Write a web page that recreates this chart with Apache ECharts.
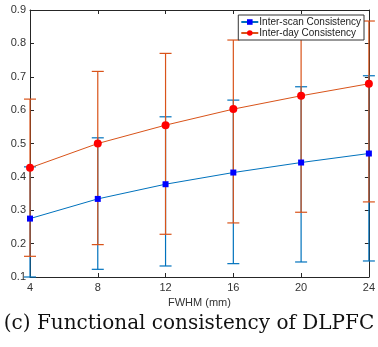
<!DOCTYPE html>
<html><head><meta charset="utf-8">
<script src="https://cdn.jsdelivr.net/npm/echarts@6/dist/echarts.min.js"></script>
<style>html,body{margin:0;padding:0;background:#fff}#c{width:378px;height:347px}</style>
</head><body><div id="c"></div>
<script>
const fwhm = [4, 8, 12, 16, 20, 24];
const scanMean = [0.275, 0.334, 0.378, 0.413, 0.443, 0.470];
const scanLow  = [0.100, 0.123, 0.133, 0.140, 0.145, 0.148];
const scanHigh = [0.430, 0.517, 0.580, 0.630, 0.670, 0.703];
const dayMean  = [0.427, 0.500, 0.555, 0.603, 0.643, 0.679];
const dayLow   = [0.162, 0.197, 0.228, 0.262, 0.294, 0.325];
const dayHigh  = [0.633, 0.716, 0.770, 0.810, 0.845, 0.867];
const yTicks = [0.1,0.2,0.3,0.4,0.5,0.6,0.7,0.8,0.9];

const blueLine = '#0072BD', redLine = '#D95319';
const chart = echarts.init(document.getElementById('c'));

function errSeries(name, lo, hi, color) {
  return {
    type: 'custom', name: name + ' err', silent: true, z: 2,
    data: fwhm.map((x, i) => [x, lo[i], hi[i]]),
    renderItem: function (params, api) {
      const x = api.value(0);
      const a = api.coord([x, api.value(1)]);
      const b = api.coord([x, api.value(2)]);
      const w = 6;
      const st = { stroke: color, lineWidth: 1.2 };
      return { type: 'group', children: [
        { type: 'line', shape: { x1: a[0], y1: a[1], x2: b[0], y2: b[1] }, style: st },
        { type: 'line', shape: { x1: a[0]-w, y1: a[1], x2: a[0]+w, y2: a[1] }, style: st },
        { type: 'line', shape: { x1: b[0]-w, y1: b[1], x2: b[0]+w, y2: b[1] }, style: st }
      ]};
    }
  };
}

const axisFont = { fontFamily: 'Liberation Sans, Arial, sans-serif', fontSize: 11, color: '#333' };
const axLine = { show: true, lineStyle: { color: '#262626', width: 1 } };

chart.setOption({
  animation: false,
  backgroundColor: '#fff',
  grid: { left: 30, right: 8, top: 10, bottom: 70 },
  legend: {
    right: 14, top: 15, orient: 'vertical',
    data: ['Inter-scan Consistency', 'Inter-day Consistency'],
    backgroundColor: '#fff', borderColor: '#333', borderWidth: 1,
    padding: [2, 3, 2, 2], itemGap: 1, itemWidth: 17, itemHeight: 7,
    textStyle: { fontFamily: 'Liberation Sans, Arial, sans-serif', fontSize: 10, color: '#222', padding: [0,0,0,-4] }
  },
  xAxis: [
    { type: 'value', min: 4, max: 24, interval: 4, position: 'bottom',
      name: 'FWHM (mm)', nameLocation: 'middle', nameGap: 17,
      nameTextStyle: axisFont,
      axisLine: axLine, axisTick: { inside: true, length: 4, lineStyle: { color: '#262626' } },
      axisLabel: Object.assign({ margin: 5 }, axisFont), splitLine: { show: false } },
    { type: 'value', min: 4, max: 24, interval: 4, position: 'top',
      axisLine: axLine, axisTick: { inside: true, length: 4, lineStyle: { color: '#262626' } },
      axisLabel: { show: false }, splitLine: { show: false } }
  ],
  yAxis: [
    { type: 'value', min: 0.1, max: 0.9, interval: 0.1, position: 'left',
      axisLine: axLine, axisTick: { inside: true, length: 4, lineStyle: { color: '#262626' } },
      axisLabel: Object.assign({ margin: 4, formatter: v => String(Math.round(v*10)/10) }, axisFont),
      splitLine: { show: false } },
    { type: 'value', min: 0.1, max: 0.9, interval: 0.1, position: 'right',
      axisLine: axLine, axisTick: { inside: true, length: 4, lineStyle: { color: '#262626' } },
      axisLabel: { show: false }, splitLine: { show: false } }
  ],
  graphic: [{
    type: 'text', left: 'center', top: 314,
    style: { text: '(c) Functional consistency of DLPFC', font: '20px "DejaVu Serif", serif', fill: '#111' }
  }],
  series: [
    errSeries('scan', scanLow, scanHigh, blueLine),
    { type: 'line', name: 'Inter-scan Consistency', z: 3,
      data: fwhm.map((x, i) => [x, scanMean[i]]),
      symbol: 'rect', symbolSize: 6, showAllSymbol: true,
      lineStyle: { color: blueLine, width: 1 }, itemStyle: { color: '#0000ff' } },
    errSeries('day', dayLow, dayHigh, redLine),
    { type: 'line', name: 'Inter-day Consistency', z: 4,
      data: fwhm.map((x, i) => [x, dayMean[i]]),
      symbol: 'circle', symbolSize: 8, showAllSymbol: true,
      lineStyle: { color: redLine, width: 1 }, itemStyle: { color: '#ff0000' } }
  ]
});
</script></body></html>
